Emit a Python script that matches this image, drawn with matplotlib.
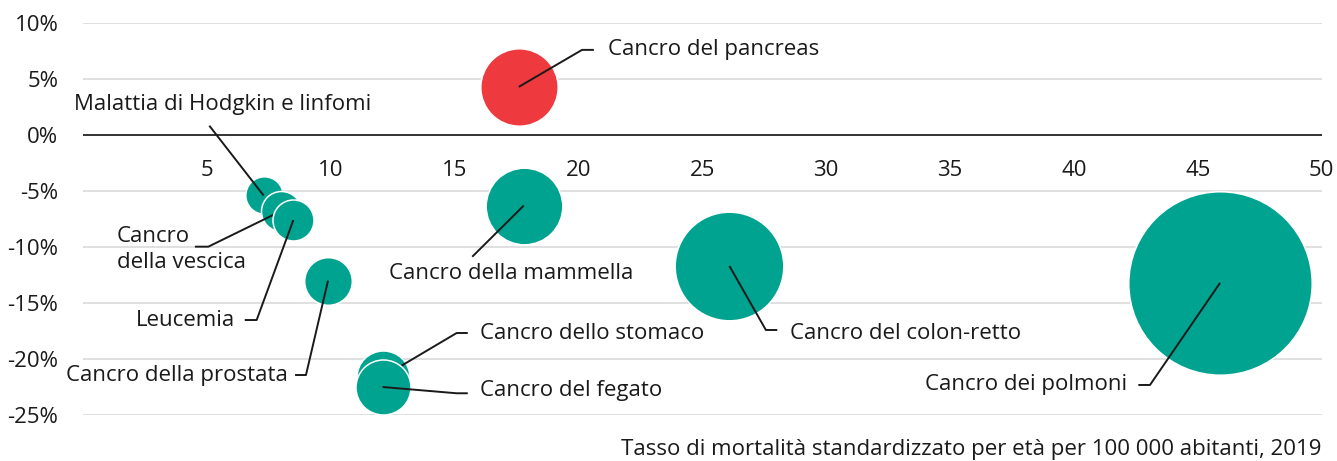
import matplotlib
matplotlib.use("Agg")
import matplotlib.pyplot as plt

plt.rcParams['font.family'] = ['Open Sans', 'DejaVu Sans']

# Data
names = ["Cancro del pancreas", "Cancro della mammella", "Cancro del colon-retto",
         "Cancro dei polmoni", "Malattia di Hodgkin e linfomi", "Cancro\ndella vescica",
         "Leucemia", "Cancro della prostata", "Cancro dello stomaco", "Cancro del fegato"]
rate = [17.6, 17.8, 26.1, 45.9, 7.3, 8.0, 8.5, 9.9, 12.1, 12.1]
change = [4.3, -6.3, -11.7, -13.2, -5.4, -6.8, -7.6, -13.0, -21.6, -22.5]
# relative bubble area
bubble = [584, 572, 1150, 3280, 136, 156, 164, 221, 274, 295]
colors = ["#EE3A3E"] + ["#00A38F"] * 9

x_ticks = [5, 10, 15, 20, 25, 30, 35, 40, 45, 50]
y_ticks = [10, 5, 0, -5, -10, -15, -20, -25]
x_title = "Tasso di mortalità standardizzato per età per 100 000 abitanti, 2019"

# label layout: text anchor, alignment, leader line points (label side)
label_pos = [(21.2, 7.6), (17.3, -12.35), (28.54, -17.7), (42.13, -22.32),
             (-0.35, 2.68), (1.37, -10.2), (6.15, -16.52), (8.26, -21.43),
             (16.03, -17.71), (16.03, -22.77)]
label_ha = ["left", "center", "left", "right", "left", "left", "right", "right",
            "left", "left"]
leader = [[(20.63, 7.6), (20.15, 7.6)],
          [(15.72, -10.87)],
          [(28.03, -17.41), (27.57, -17.41)],
          [(42.6, -22.32), (43.07, -22.32)],
          [(5.11, 0.83)],
          [(4.53, -9.97), (5.07, -9.97)],
          [(6.54, -16.52), (7.02, -16.52)],
          [(8.57, -21.43), (9.01, -21.43)],
          [(15.54, -17.68), (15.09, -17.68)],
          [(15.54, -23.06), (15.09, -23.06)]]

text_color = "#1a1a1a"
fs = 16

fig = plt.figure(figsize=(13.37, 4.61), dpi=100)
ax = fig.add_axes([82.7 / 1337, 46 / 461, (1321.7 - 82.7) / 1337, 392 / 461])
ax.set_xlim(0, 50)
ax.set_ylim(-25, 10)
for s in ax.spines.values():
    s.set_visible(False)

ax.set_yticks(y_ticks)
ax.set_yticklabels([f"{v}%" for v in y_ticks])
ax.set_xticks([])
ax.tick_params(axis="y", length=0, pad=17.5, labelsize=fs, labelcolor=text_color)
for v in y_ticks:
    if v == 0:
        ax.axhline(v, color="#111111", lw=1.2, zorder=1)
    else:
        ax.axhline(v, color="#dddddd", lw=1.3, zorder=0)

for v in x_ticks:
    ax.text(v, -3.2, str(v), ha="center", va="center", fontsize=fs, color=text_color)

scale = 5.317
for i in range(len(names)):
    ax.scatter(rate[i], change[i], s=bubble[i] * scale, color=colors[i],
               edgecolor="white", linewidth=1.1, zorder=2 + 2 * i, clip_on=False)
    pts = [(rate[i], change[i])] + leader[i][::-1]
    ax.plot([p[0] for p in pts], [p[1] for p in pts], color="#1a1a1a", lw=1.4,
            zorder=3 + 2 * i, clip_on=False, solid_capstyle="butt")
    ax.text(label_pos[i][0], label_pos[i][1], names[i], ha=label_ha[i], va="center",
            fontsize=fs, color=text_color, linespacing=1.3, zorder=30)

ax.text(50, -28.1, x_title, ha="right", va="center", fontsize=fs, color=text_color)

fig.savefig("out.png", dpi=100, facecolor="white")
